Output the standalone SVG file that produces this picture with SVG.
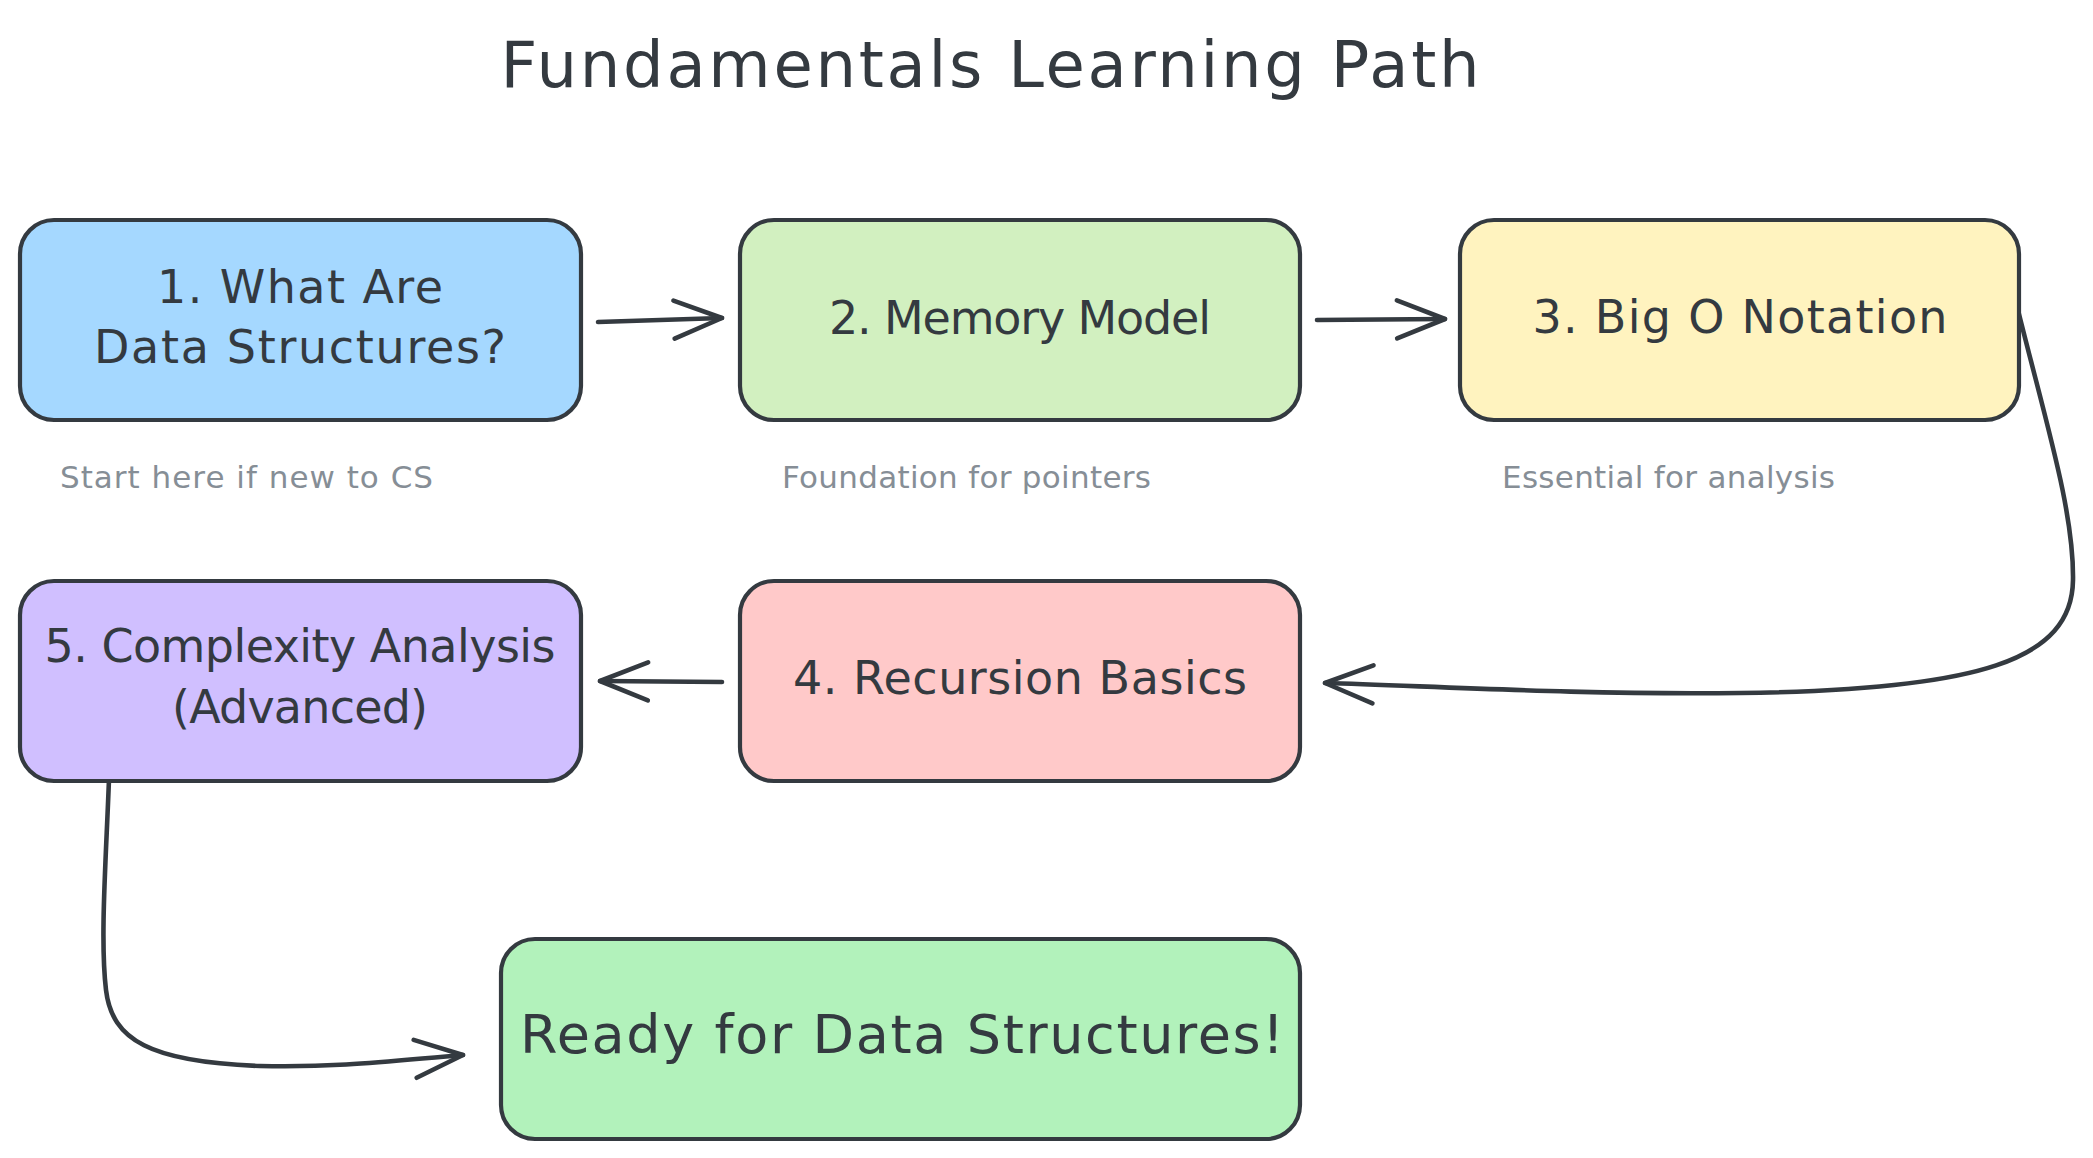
<svg xmlns="http://www.w3.org/2000/svg" width="2093" height="1158" viewBox="0 0 2093 1158">
<style>
.node{stroke:#343a40;stroke-width:4.2;stroke-linejoin:round}
.lbl{font-family:"DejaVu Sans","Liberation Sans",sans-serif;font-size:46px;fill:#343a40;text-anchor:middle}
.big{font-size:54px}
.title{font-family:"DejaVu Sans","Liberation Sans",sans-serif;font-size:64px;fill:#343a40;text-anchor:middle}
.note{font-family:"DejaVu Sans","Liberation Sans",sans-serif;font-size:31px;fill:#868e96}
.edge{fill:none;stroke:#343a40;stroke-width:4.6;stroke-linecap:round;stroke-linejoin:round}
</style>
<defs>
<marker id="arr" markerUnits="userSpaceOnUse" viewBox="-56 -26 62 52" refX="0" refY="0" markerWidth="62" markerHeight="52" orient="auto">
<path d="M-48,-19 L0,0 L-48,19" fill="none" stroke="#343a40" stroke-width="4.6" stroke-linecap="round" stroke-linejoin="round"/>
</marker>
</defs>
<rect width="2093" height="1158" fill="#ffffff"/>
<text class="title" x="990" y="87" textLength="979" lengthAdjust="spacing">Fundamentals Learning Path</text>

<g id="connectors">
<path class="edge" marker-end="url(#arr)" d="M598,322 L722,318"/>
<path class="edge" marker-end="url(#arr)" d="M1317,320 L1445,319"/>
<path class="edge" marker-end="url(#arr)" d="M2016,302 C2045,420 2074,510 2073,580 C2072,660 1980,690 1740,693 C1580,695 1430,686 1325,683"/>
<path class="edge" marker-end="url(#arr)" d="M722,682 L600,681"/>
<path class="edge" marker-end="url(#arr)" d="M109,779 C106,860 100,940 106,990 C112,1040 150,1062 260,1066 C340,1068 400,1060 463,1055"/>
</g>

<g id="node1">
<rect class="node" x="20" y="220" width="561" height="200" rx="34" fill="#a5d8ff"/>
<text class="lbl" x="300" y="303" textLength="286" lengthAdjust="spacing">1. What Are</text>
<text class="lbl" x="300" y="363" textLength="412" lengthAdjust="spacing">Data Structures?</text>
</g>
<g id="node2">
<rect class="node" x="740" y="220" width="560" height="200" rx="34" fill="#d2f0c0"/>
<text class="lbl" x="1020" y="334" textLength="382" lengthAdjust="spacing">2. Memory Model</text>
</g>
<g id="node3">
<rect class="node" x="1460" y="220" width="559" height="200" rx="34" fill="#fff3bf"/>
<text class="lbl" x="1740" y="333" textLength="415" lengthAdjust="spacing">3. Big O Notation</text>
</g>
<g id="node4">
<rect class="node" x="740" y="581" width="560" height="200" rx="34" fill="#ffc9c9"/>
<text class="lbl" x="1020" y="694" textLength="454" lengthAdjust="spacing">4. Recursion Basics</text>
</g>
<g id="node5">
<rect class="node" x="20" y="581" width="561" height="200" rx="34" fill="#d0bfff"/>
<text class="lbl" x="300" y="662" textLength="511" lengthAdjust="spacing">5. Complexity Analysis</text>
<text class="lbl" x="300" y="723" textLength="256" lengthAdjust="spacing">(Advanced)</text>
</g>
<g id="node6">
<rect class="node" x="501" y="939" width="799" height="200" rx="34" fill="#b2f2bb"/>
<text class="lbl big" x="902" y="1053" textLength="764" lengthAdjust="spacing">Ready for Data Structures!</text>
</g>

<g id="notes">
<text class="note" x="60" y="488" textLength="373" lengthAdjust="spacing">Start here if new to CS</text>
<text class="note" x="782" y="488" textLength="369" lengthAdjust="spacing">Foundation for pointers</text>
<text class="note" x="1502" y="488" textLength="333" lengthAdjust="spacing">Essential for analysis</text>
</g>
</svg>
